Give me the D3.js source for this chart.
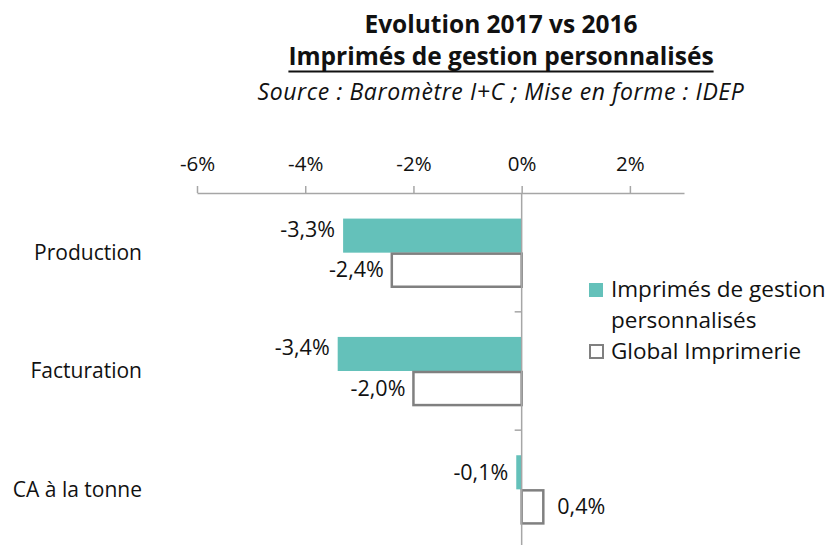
<!DOCTYPE html>
<html>
<head>
<meta charset="utf-8">
<script src="https://cdn.jsdelivr.net/npm/d3@7"></script>
<style>
  html, body { margin: 0; padding: 0; background: #fff; }
  svg { display: block; font-family: "Open Sans", sans-serif; }
</style>
</head>
<body>
<svg id="chart" width="836" height="545"></svg>
<script>
// ---- data ----
const categories = ["Production", "Facturation", "CA à la tonne"];
const seriesNames = ["Imprimés de gestion personnalisés", "Global Imprimerie"];
const imprimesGestion = [-0.033, -0.034, -0.001];
const globalImprimerie = [-0.024, -0.020, 0.004];
const tickValues = [-0.06, -0.04, -0.02, 0, 0.02];
const tickLabels = ["-6%", "-4%", "-2%", "0%", "2%"];
const valueLabelsImprimes = ["-3,3%", "-3,4%", "-0,1%"];
const valueLabelsGlobal = ["-2,4%", "-2,0%", "0,4%"];
const titleLines = ["Evolution 2017 vs 2016", "Imprimés de gestion personnalisés", "Source : Baromètre I+C ; Mise en forme : IDEP"];

// ---- styles ----
const teal = "#64C1BA";
const gray = "#808080";
const axisGray = "#A6A6A6";
const textColor = "#111";

const svg = d3.select("#chart");

const x = d3.scaleLinear().domain([-0.06, 0.03]).range([197, 684]);
const y = d3.scaleBand().domain(categories).range([193.5, 548.5])
  .paddingInner(0.424).paddingOuter(0.212);
const ySub = d3.scaleBand().domain([0, 1]).range([0, y.bandwidth()]);

// ---- titles ----
const cx = 501;
svg.append("text").attr("x", cx).attr("y", 33).attr("text-anchor", "middle")
  .attr("font-weight", "bold").attr("font-size", 24.5).attr("fill", textColor).text(titleLines[0]);
const sub = svg.append("text").attr("x", cx).attr("y", 65).attr("text-anchor", "middle")
  .attr("font-weight", "bold").attr("font-size", 24.5).attr("fill", textColor).text(titleLines[1]);
const subW = sub.node().getComputedTextLength();
svg.append("line").attr("x1", cx - subW / 2).attr("x2", cx + subW / 2)
  .attr("y1", 71.5).attr("y2", 71.5).attr("stroke", textColor).attr("stroke-width", 1.8);
const src = svg.append("text").attr("x", cx).attr("y", 100).attr("text-anchor", "middle")
  .attr("font-style", "italic").attr("font-size", 23).attr("fill", textColor).text(titleLines[2]);
const srcW = src.node().getComputedTextLength();
src.attr("letter-spacing", Math.max(0, (487 - srcW) / titleLines[2].length));

// ---- top axis ----
const axisTop = d3.axisTop(x).tickValues(tickValues)
  .tickFormat((d, i) => tickLabels[i]).tickSizeInner(7).tickSizeOuter(0).tickPadding(15);
const gAxis = svg.append("g").attr("transform", "translate(0,193)").call(axisTop);
gAxis.select(".domain").attr("stroke", axisGray).attr("stroke-width", 1.5);
gAxis.selectAll(".tick line").attr("stroke", axisGray).attr("stroke-width", 1.5);
gAxis.selectAll(".tick text").attr("font-size", 20.5).attr("fill", textColor)
  .attr("font-family", "Open Sans, sans-serif");

// ---- bars ----
const barData = categories.map((c, i) => ({
  cat: c,
  vals: [
    { s: 0, v: imprimesGestion[i], label: valueLabelsImprimes[i] },
    { s: 1, v: globalImprimerie[i], label: valueLabelsGlobal[i] }
  ]
}));

const groups = svg.append("g").selectAll("g").data(barData).join("g")
  .attr("transform", d => `translate(0,${y(d.cat)})`);

groups.selectAll("rect.teal").data(d => d.vals.filter(v => v.s === 0)).join("rect")
  .attr("x", d => Math.min(x(0), x(d.v)))
  .attr("width", d => Math.abs(x(d.v) - x(0)))
  .attr("y", d => ySub(d.s))
  .attr("height", ySub.bandwidth())
  .attr("fill", teal);

groups.selectAll("rect.glob").data(d => d.vals.filter(v => v.s === 1)).join("rect")
  .attr("x", d => Math.min(x(0), x(d.v)))
  .attr("width", d => Math.abs(x(d.v) - x(0)))
  .attr("y", d => ySub(d.s) + 1)
  .attr("height", ySub.bandwidth() - 1)
  .attr("fill", "#fff")
  .attr("stroke", gray)
  .attr("stroke-width", 2.5);

// zero line (vertical category axis)
const yAxis = d3.axisLeft(y).tickSize(0).tickFormat("");
const gY = svg.append("g").attr("transform", `translate(${x(0)},0)`).call(yAxis);
gY.select(".domain").attr("stroke", axisGray).attr("stroke-width", 1.5)
  .attr("d", `M0,193V548`);
gY.selectAll(".tick").remove();
const boundaries = categories.slice(1).map(c => y(c) - y.step() * y.paddingInner() / 2);
gY.selectAll("line.bt").data(boundaries).join("line")
  .attr("x1", -7).attr("x2", 0).attr("y1", d => d).attr("y2", d => d)
  .attr("stroke", axisGray).attr("stroke-width", 1.5);

// value labels
groups.selectAll("text.val").data(d => d.vals).join("text")
  .attr("class", "val")
  .attr("x", d => d.v < 0 ? x(d.v) - 8 : x(d.v) + 14)
  .attr("y", d => ySub(d.s) + ySub.bandwidth() / 2 + (d.s === 0 && d.v < -0.01 ? -6 : 0))
  .attr("dy", "0.35em")
  .attr("text-anchor", d => d.v < 0 ? "end" : "start")
  .attr("font-size", 21.5).attr("fill", textColor)
  .text(d => d.label);

// category labels
svg.append("g").selectAll("text").data(categories).join("text")
  .attr("x", 142).attr("y", d => y(d) + y.bandwidth() / 2)
  .attr("dy", "0.35em").attr("text-anchor", "end")
  .attr("font-size", 21).attr("fill", textColor).text(d => d);

// ---- legend ----
const legSize = 22.5;
const leg = svg.append("g");
leg.append("rect").attr("x", 589).attr("y", 283).attr("width", 14).attr("height", 14).attr("fill", teal);
const lt = leg.append("text").attr("font-size", legSize).attr("fill", textColor);
lt.append("tspan").attr("x", 611).attr("y", 297).text("Imprimés de gestion");
lt.append("tspan").attr("x", 611).attr("y", 328).text("personnalisés");
leg.append("rect").attr("x", 590).attr("y", 345).attr("width", 13).attr("height", 13)
  .attr("fill", "#fff").attr("stroke", gray).attr("stroke-width", 2);
leg.append("text").attr("x", 611).attr("y", 359).attr("font-size", legSize)
  .attr("fill", textColor).text(seriesNames[1]);
</script>
</body>
</html>
